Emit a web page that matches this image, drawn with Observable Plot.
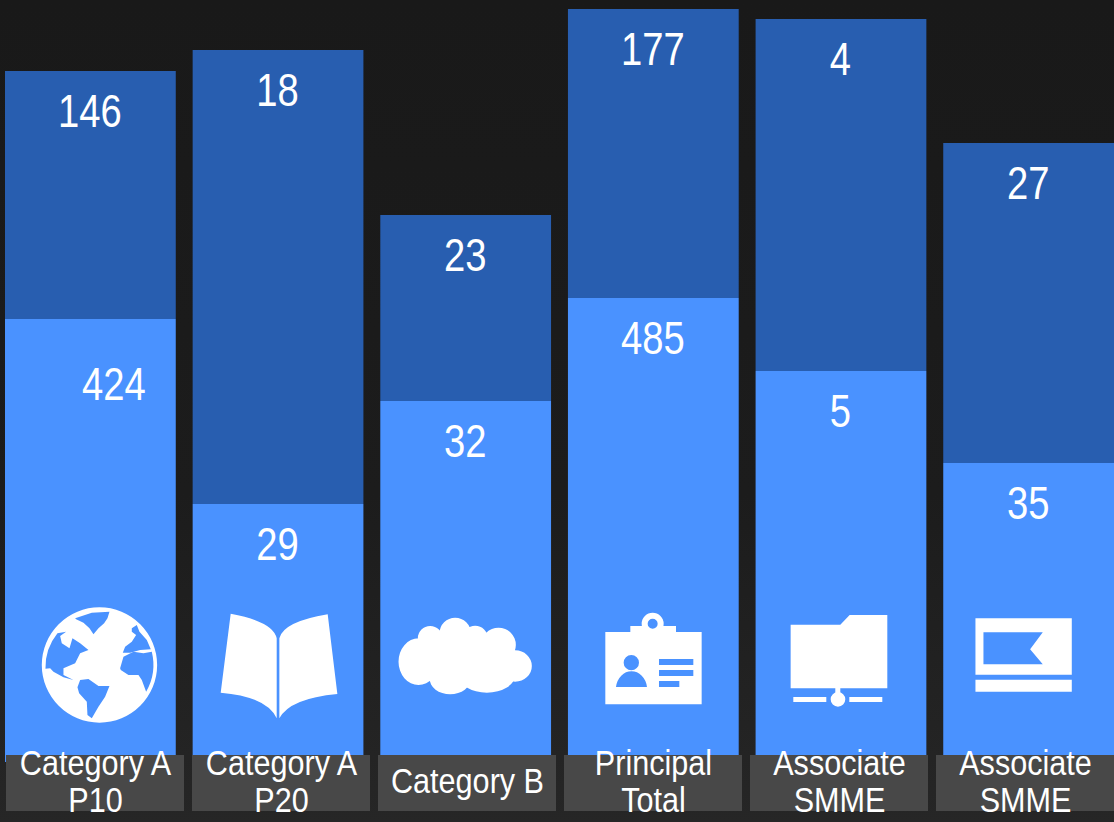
<!DOCTYPE html>
<html><head><meta charset="utf-8">
<script src="https://cdn.jsdelivr.net/npm/d3@7"></script>
<script src="https://cdn.jsdelivr.net/npm/@observablehq/plot@0.6"></script>
<style>
html,body{margin:0;padding:0;background:#1a1a1a;}
body{width:1114px;height:822px;overflow:hidden;background:linear-gradient(#191919 0,#1c1c1c 60%,#262626 100%);}
svg{display:block;background:transparent!important;}
</style></head><body><div id="chart"></div>
<script>
const categories = ["Category A\nP10","Category A\nP20","Category B","Principal\nTotal","Associate\nSMME","Associate\nSMME"];
const slots = ["a","b","c","d","e","f"];
const lowerLabels = [424,29,32,485,5,35];
const upperLabels = [146,18,23,177,4,27];
// segment heights as drawn (they are not proportional to the printed numbers)
const lowerHeights = [443,258,361,464,391,299];
const upperHeights = [248,454,186,289,352,320];
const shiftedLabel = 424;

const FONT = '"Liberation Sans",Arial,sans-serif';
const W=1114,H=822;
const yOpts={axis:null,domain:[-60,762],range:[H,0]};

const segs = slots.flatMap((s,i)=>[
  {slot:s,part:"lower",h:lowerHeights[i]},
  {slot:s,part:"upper",h:upperHeights[i]}]);
const table = slots.map((s,i)=>({slot:s,cat:categories[i],lo:lowerHeights[i],top:lowerHeights[i]+upperHeights[i],ll:lowerLabels[i],ul:upperLabels[i]}));

const E=(cx,cy,rx,ry)=>`M${cx-rx},${cy}A${rx},${ry} 0 1,1 ${cx+rx},${cy}A${rx},${ry} 0 1,1 ${cx-rx},${cy}Z`;
const R=(x1,y1,x2,y2)=>`M${x1},${y1}H${x2}V${y2}H${x1}Z`;
const BLUE="#4a92ff", WH="#fff";
const icons = {
 a:{o:180.75,oy:465,p:[[WH,E(208,195,173,173)],
   [BLUE,"M135,55L185,38L238,35L232,55L222,70L205,85L190,103L178,85L160,68L138,58Z"],
   [BLUE,"M46,206A163,163 0 0,1 82,100L108,95L90,108L95,130L118,145L127,115L150,130L175,150L150,160L135,190L100,205L100,225L130,240L100,232L70,215L60,205Z"],
   [BLUE,"M142,262L150,240L175,237L205,258L238,258L225,290L205,320L185,355L172,345L170,305L147,280Z"],
   [BLUE,"M305,85L320,75L328,95L350,120L362,148L330,150L300,158L278,158L285,140L305,125L318,105L305,95Z"],
   [BLUE,"M270,205L280,170L310,155L340,160L365,155A163,163 0 0,1 348,275L335,240L325,225L295,225L272,210Z"]]},
 b:{o:834,p:[[WH,"M692,71Q820,95 830,145V385Q800,320 662,308Z"],[WH,"M983,73Q850,95 838,145V385Q870,325 1012,312Z"]]},
 c:{o:286.5,p:[[WH,E(145,215,60,70)+E(180,145,37,37)+E(255,130,47,47)+E(315,145,38,38)+E(385,165,52,52)+E(435,228,50,47)+E(240,265,62,48)+E(350,255,85,53)+R(150,150,420,270)]]},
 d:{o:849,p:[[WH,R(705,126,994,343)+R(780,108,917,126)+E(847,101,33,33)],[BLUE,E(847,101,15,15)+E(783,218,23,23)+"M737,291A47,55 0 0,1 830,291Z"+R(866,207,969,225)+R(866,240,969,258)+R(866,273,927,291)]]},
 e:{o:302,p:[[WH,"M151,104H300L328,75H441V295H151Z"+R(285,295,300,312)+E(293,328,22,22)+R(159,321,258,336)+R(327,321,426,336)]]},
 f:{o:865.5,p:[[WH,R(706,85,995,254)+R(706,269,995,305)],[BLUE,"M730,127H908L870,178L908,223H730Z"]]}
};
function iconMark(index,{x,y}){
  const g=d3.create("svg:g");
  for(const s of slots){
    const ic=icons[s];
    const t=g.append("g").attr("transform",`translate(${x(s)+x.bandwidth()/2},${y(7)}) scale(${1/3}) translate(${-ic.o},${-(ic.oy??495)})`);
    for(const [f,d] of ic.p) t.append("path").attr("d",d).attr("fill",f);
  }
  return g.node();
}
const numStyle={fontFamily:FONT,fontSize:46,fill:"#fff",lineAnchor:"middle"};
const main = Plot.plot({
  width:W,height:H,margin:0,
  x:{axis:null,type:"band",domain:slots,range:[5,1114],paddingInner:0.09,paddingOuter:0,round:false},
  y:yOpts,
  color:{domain:["lower","upper"],range:[BLUE,"#285eb0"]},
  marks:[
    Plot.barY(segs,{x:"slot",y:"h",fill:"part",order:["lower","upper"]}),
    iconMark,
    Plot.text(table,{x:"slot",y:"top",text:"ul",dy:41,dx:-1,...numStyle}),
    Plot.text(table.filter(d=>d.ll!==shiftedLabel),{x:"slot",y:"lo",text:"ll",dy:41,dx:-1,...numStyle}),
    Plot.text(table.filter(d=>d.ll===shiftedLabel),{x:"slot",y:"lo",text:"ll",dy:66,dx:23,...numStyle})
  ]
});
const strip = Plot.plot({
  width:W,height:H,margin:0,
  x:{axis:null,type:"band",domain:slots,range:[6,1114],paddingInner:0.043,paddingOuter:0,round:false},
  y:yOpts,
  marks:[
    Plot.barY(slots,{x:d=>d,y1:()=>7,y2:()=>-49,fill:"#484848"}),
    Plot.text(table,{x:"slot",y:-21,dy:-2,text:"cat",fontFamily:FONT,fontSize:36,lineHeight:1.03,fill:"#fff"})
  ]
});
main.appendChild(strip);
document.getElementById("chart").appendChild(main);
// the reference's face is a narrow grotesque: condense the installed one
const condense=(svg,k)=>{for(const t of svg.querySelectorAll(":scope > g[aria-label='text'] text")){
  t.setAttribute("transform",(t.getAttribute("transform")||"")+` scale(${k},1)`);}};
condense(main,0.83);condense(strip,0.85);
</script></body></html>
